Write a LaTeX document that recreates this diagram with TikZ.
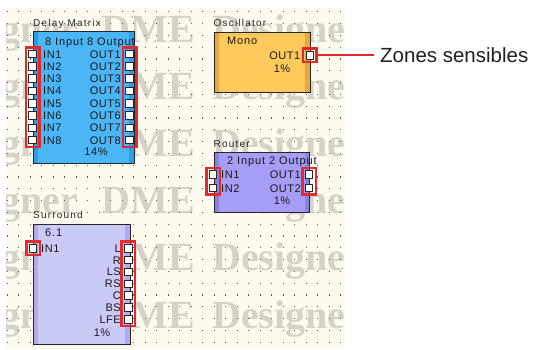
\documentclass[tikz,border=0pt]{standalone}
\usepackage{fontspec}
\setmainfont{Liberation Sans}
\newfontfamily\wmfont{Liberation Serif}
\newfontfamily\lblfont[LetterSpace=12]{Liberation Sans}
\newfontfamily\bxfont[LetterSpace=5]{Liberation Sans}
\newfontfamily\ttlfont[LetterSpace=8]{Liberation Sans}
\usetikzlibrary{fit}
\definecolor{panelc}{HTML}{FDFAF0}
\definecolor{wmc}{HTML}{D6D2C8}
\definecolor{dotc}{HTML}{5A5A5A}
\definecolor{dmc}{HTML}{4AB6F6}
\definecolor{dms}{HTML}{2E9CE6}
\definecolor{osc}{HTML}{FFC95C}
\definecolor{oss}{HTML}{EAA83A}
\definecolor{rtc}{HTML}{A49EF7}
\definecolor{rts}{HTML}{8A83E6}
\definecolor{suc}{HTML}{CACAF6}
\definecolor{sus}{HTML}{AFADEC}
\definecolor{hlc}{HTML}{E02A2E}
\definecolor{zonec}{HTML}{231F20}
\tikzset{
  modbox/.style 2 args={draw=black!85, line width=0.9pt, fill=#1, inner sep=0pt, anchor=north west,
    path picture={
      \fill[#2] (path picture bounding box.north west) rectangle ([xshift=5pt]path picture bounding box.south west);
      \fill[#2] ([xshift=-5pt]path picture bounding box.north east) rectangle (path picture bounding box.south east);
    }},
  port/.style={draw=black!85, fill=white, line width=0.8pt, minimum size=7.5pt, inner sep=0pt},
  hlbox/.style={draw=hlc, line width=2.5pt, inner xsep=2.6pt, inner ysep=2.5pt},
  lbl/.style={font=\lblfont\fontsize{10}{12}\selectfont, inner sep=0pt, text=black!85},
  txt/.style={font=\bxfont\fontsize{11}{13}\selectfont, inner sep=0pt, text=black!90},
  ttl/.style={font=\ttlfont\fontsize{11}{13}\selectfont, inner sep=0pt, text=black!90},
  wmtext/.style={font=\wmfont\bfseries\fontsize{40}{42}\selectfont, text=wmc, inner sep=0pt},
}
\begin{document}
\begin{tikzpicture}[x=1pt,y=-1pt]
\useasboundingbox (0,0) rectangle (536,349);
\fill[panelc] (6,8) rectangle (345,349);
% watermark
\begin{scope}
\clip (6,8) rectangle (345,349);
\foreach \b [count=\r] in {42,99,156,213,270,328}{
  \node[wmtext, anchor=base east] (wmg\r) at (78,\b) {gner};
  \node[wmtext, anchor=base east] (wmd\r) at (195,\b) {DME};
  \node[wmtext, anchor=base west] (wme\r) at (212,\b) {Designer};
}
\end{scope}
% dot grid
\foreach \i in {0,...,29}{
  \foreach \j in {0,...,28}{
    \fill[dotc] ({7.3+11.5*\i-0.6},{11.7+11.8*\j-0.6}) rectangle ++(1.2,1.2);
  }
}
% ---------- Delay Matrix ----------
\node[lbl, anchor=base west] (dmlbl) at (33,26.5) {Delay Matrix};
\node[modbox={dmc}{dms}, minimum width=101.5pt, minimum height=132pt] (dm) at (32.5,31) {};
\node[ttl, anchor=base west] (dmtitle) at (45,45) {8 Input 8 Output};
\foreach \k in {1,...,8}{
  \pgfmathsetmacro{\yy}{54+12.3*(\k-1)}
  \node[port] (dmi\k) at (32.5,\yy) {};
  \node[port] (dmo\k) at (129.5,\yy) {};
  \node[txt, anchor=base west] (dmit\k) at (43,\yy+4) {IN\k};
  \node[txt, anchor=base east] (dmot\k) at (121,\yy+4) {OUT\k};
}
\node[txt, anchor=base] (dmpct) at (96,155.5) {14\%};
\node[hlbox, fit=(dmi1)(dmi8)] (hl1) {};
\node[hlbox, fit=(dmo1)(dmo8)] (hl2) {};
% ---------- Oscillator ----------
\node[lbl, anchor=base west] (osclbl) at (213.5,26.5) {Oscillator};
\node[modbox={osc}{oss}, minimum width=96.5pt, minimum height=60pt] (oscb) at (213.5,31.5) {};
\node[ttl, anchor=base west] (osctitle) at (227,44) {Mono};
\node[txt, anchor=base east] (oscot) at (300.5,59.3) {OUT1};
\node[txt, anchor=base] (oscpct) at (282,72.3) {1\%};
\node[port] (oscout) at (309.7,55.3) {};
\node[hlbox, fit=(oscout)] (hl3) {};
% ---------- Router ----------
\node[lbl, anchor=base west] (rtlbl) at (213.5,147) {Router};
\node[modbox={rtc}{rts}, minimum width=95.8pt, minimum height=60pt] (rt) at (213.5,152) {};
\node[ttl, anchor=base west] (rttitle) at (227,164) {2 Input 2 Output};
\foreach \k/\yy in {1/174.5,2/188}{
  \node[port] (rti\k) at (213,\yy) {};
  \node[port] (rto\k) at (309,\yy) {};
  \node[txt, anchor=base west] (rtit\k) at (221,\yy+4) {IN\k};
  \node[txt, anchor=base east] (rtot\k) at (301,\yy+4) {OUT\k};
}
\node[txt, anchor=base] (rtpct) at (282,204) {1\%};
\node[hlbox, fit=(rti1)(rti2)] (hl4) {};
\node[hlbox, fit=(rto1)(rto2)] (hl5) {};
% ---------- Surround ----------
\node[lbl, anchor=base west] (sulbl) at (33,218.5) {Surround};
\node[modbox={suc}{sus}, minimum width=97.5pt, minimum height=120pt] (su) at (32.5,224) {};
\node[ttl, anchor=base west] (sutitle) at (45,236.3) {6.1};
\node[port] (sui1) at (33,248.3) {};
\node[txt, anchor=base west] (suit1) at (41,252.3) {IN1};
\foreach \lab [count=\k] in {L,R,LS,RS,C,BS,LFE}{
  \pgfmathsetmacro{\yy}{248.3+11.83*(\k-1)}
  \node[port] (suo\k) at (128.3,\yy) {};
  \node[txt, anchor=base east] (suot\k) at (121,\yy+4) {\lab};
}
\node[txt, anchor=base] (supct) at (102,336.7) {1\%};
\node[hlbox, fit=(sui1)] (hl6) {};
\node[hlbox, fit=(suo1)(suo7)] (hl7) {};
% ---------- callout ----------
\node[anchor=west, inner xsep=6pt, inner ysep=0pt, font=\fontsize{20.5}{24}\selectfont, text=zonec] (zones) at (374,55.3) {Zones sensibles};
\draw[hlc, line width=2pt] (hl3.east) -- (zones.west);
\end{tikzpicture}
\end{document}
